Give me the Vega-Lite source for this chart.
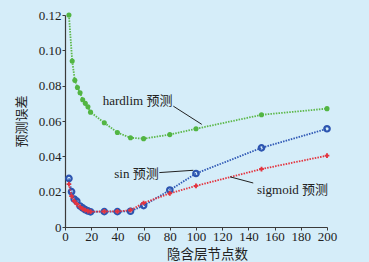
{
  "$schema": "https://vega.github.io/schema/vega-lite/v6.json",
  "autosize": {"type": "none"},
  "width": 262,
  "height": 212,
  "padding": {"left": 65, "top": 15, "right": 42, "bottom": 35},
  "background": "#d5edf9",
  "config": {
    "view": {"stroke": null},
    "font": "Liberation Serif, Noto Sans CJK SC",
    "axis": {
      "grid": false,
      "domainColor": "#3a3a3a",
      "tickColor": "#3a3a3a",
      "domainWidth": 1.2,
      "labelFont": "Liberation Serif",
      "labelFontSize": 13,
      "labelColor": "#222",
      "labelOverlap": false,
      "titleFont": "Noto Sans CJK SC",
      "titleFontSize": 13,
      "titleFontWeight": "normal",
      "titleColor": "#222"
    }
  },
  "datasets": {
    "series": [
      {"n": 3, "err": 0.120, "s": "hardlim"},
      {"n": 5.5, "err": 0.094, "s": "hardlim"},
      {"n": 7.5, "err": 0.083, "s": "hardlim"},
      {"n": 9.5, "err": 0.079, "s": "hardlim"},
      {"n": 11.5, "err": 0.076, "s": "hardlim"},
      {"n": 13.5, "err": 0.072, "s": "hardlim"},
      {"n": 15.5, "err": 0.070, "s": "hardlim"},
      {"n": 17.5, "err": 0.068, "s": "hardlim"},
      {"n": 19.5, "err": 0.065, "s": "hardlim"},
      {"n": 30, "err": 0.059, "s": "hardlim"},
      {"n": 40, "err": 0.0535, "s": "hardlim"},
      {"n": 50, "err": 0.0505, "s": "hardlim"},
      {"n": 60, "err": 0.050, "s": "hardlim"},
      {"n": 80, "err": 0.0523, "s": "hardlim"},
      {"n": 100, "err": 0.0556, "s": "hardlim"},
      {"n": 150, "err": 0.0635, "s": "hardlim"},
      {"n": 200, "err": 0.067, "s": "hardlim"},
      {"n": 3, "err": 0.0275, "s": "sin"},
      {"n": 5, "err": 0.020, "s": "sin"},
      {"n": 7, "err": 0.0158, "s": "sin"},
      {"n": 9, "err": 0.0146, "s": "sin"},
      {"n": 11.5, "err": 0.0119, "s": "sin"},
      {"n": 13.5, "err": 0.0108, "s": "sin"},
      {"n": 15.5, "err": 0.0098, "s": "sin"},
      {"n": 17.5, "err": 0.0091, "s": "sin"},
      {"n": 19.5, "err": 0.0086, "s": "sin"},
      {"n": 30, "err": 0.0087, "s": "sin"},
      {"n": 40, "err": 0.0087, "s": "sin"},
      {"n": 50, "err": 0.0089, "s": "sin"},
      {"n": 60, "err": 0.0121, "s": "sin"},
      {"n": 80, "err": 0.0209, "s": "sin"},
      {"n": 100, "err": 0.0303, "s": "sin"},
      {"n": 150, "err": 0.0448, "s": "sin"},
      {"n": 200, "err": 0.0556, "s": "sin"},
      {"n": 3, "err": 0.0243, "s": "sigmoid"},
      {"n": 5, "err": 0.0175, "s": "sigmoid"},
      {"n": 7, "err": 0.0148, "s": "sigmoid"},
      {"n": 9, "err": 0.013, "s": "sigmoid"},
      {"n": 11.5, "err": 0.0114, "s": "sigmoid"},
      {"n": 13.5, "err": 0.0103, "s": "sigmoid"},
      {"n": 15.5, "err": 0.0095, "s": "sigmoid"},
      {"n": 17.5, "err": 0.009, "s": "sigmoid"},
      {"n": 19.5, "err": 0.0087, "s": "sigmoid"},
      {"n": 30, "err": 0.0088, "s": "sigmoid"},
      {"n": 40, "err": 0.0088, "s": "sigmoid"},
      {"n": 50, "err": 0.0095, "s": "sigmoid"},
      {"n": 60, "err": 0.0136, "s": "sigmoid"},
      {"n": 80, "err": 0.019, "s": "sigmoid"},
      {"n": 100, "err": 0.0233, "s": "sigmoid"},
      {"n": 150, "err": 0.0328, "s": "sigmoid"},
      {"n": 200, "err": 0.0404, "s": "sigmoid"}
    ],
    "leaders": [
      {"x": 82.7, "y": 0.0684, "x2": 104.4, "y2": 0.0581},
      {"x": 72, "y": 0.0308, "x2": 97.9, "y2": 0.0321},
      {"x": 126, "y": 0.0284, "x2": 143.7, "y2": 0.0249}
    ],
    "labels": [
      {"x": 82, "y": 0.0712, "t": "hardlim 预测", "side": "right"},
      {"x": 71.5, "y": 0.0298, "t": "sin 预测", "side": "right"},
      {"x": 146.5, "y": 0.0208, "t": "sigmoid 预测", "side": "left"}
    ]
  },
  "encoding": {
    "x": {"type": "quantitative", "scale": {"domain": [0, 200], "nice": false},
      "axis": {"values": [0, 20, 40, 60, 80, 100, 120, 140, 160, 180, 200], "labelOverlap": false, "labelFlush": false, "title": "隐含层节点数", "titleFontSize": 13.5, "tickSize": 3, "labelPadding": 0, "titlePadding": 4, "titleX": 142}},
    "y": {"type": "quantitative", "scale": {"domain": [0, 0.12], "nice": false},
      "axis": {"values": [0, 0.02, 0.04, 0.06, 0.08, 0.1, 0.12], "labelOverlap": false, "labelFlush": false, "labelExpr": "datum.value == 0 ? '0' : format(datum.value, '.2f')", "title": "预测误差", "tickSize": 3, "labelPadding": 1, "titlePadding": 10}}
  },
  "layer": [
    {
      "data": {"name": "series"},
      "transform": [{"filter": "datum.s == 'hardlim'"}],
      "mark": {"type": "line", "color": "#5cb84a", "strokeWidth": 1.8, "strokeDash": [1.5, 1.2], "point": {"filled": true, "size": 26, "color": "#52b543"}},
      "encoding": {
        "x": {"field": "n", "type": "quantitative"},
        "y": {"field": "err", "type": "quantitative"}
      }
    },
    {
      "data": {"name": "series"},
      "transform": [{"filter": "datum.s == 'sin'"}],
      "mark": {"type": "line", "color": "#3059b5", "strokeWidth": 1.8, "strokeDash": [1.5, 1.2], "point": {"filled": false, "size": 30, "strokeWidth": 2.2, "color": "#2d55b0"}},
      "encoding": {
        "x": {"field": "n", "type": "quantitative"},
        "y": {"field": "err", "type": "quantitative"}
      }
    },
    {
      "data": {"name": "series"},
      "transform": [{"filter": "datum.s == 'sigmoid'"}],
      "mark": {"type": "line", "color": "#e3343f", "strokeWidth": 1.8, "strokeDash": [1.5, 1.2], "point": {"shape": "cross", "filled": true, "size": 22, "color": "#e3343f"}},
      "encoding": {
        "x": {"field": "n", "type": "quantitative"},
        "y": {"field": "err", "type": "quantitative"}
      }
    },
    {
      "data": {"name": "leaders"},
      "mark": {"type": "rule", "color": "#222", "strokeWidth": 1},
      "encoding": {
        "x": {"field": "x", "type": "quantitative"},
        "y": {"field": "y", "type": "quantitative"},
        "x2": {"field": "x2"},
        "y2": {"field": "y2"}
      }
    },
    {
      "data": {"name": "labels"},
      "transform": [{"filter": "datum.side == 'right'"}],
      "mark": {"type": "text", "align": "right", "baseline": "middle", "fontSize": 13, "color": "#222", "font": "Liberation Serif, Noto Sans CJK SC"},
      "encoding": {
        "x": {"field": "x", "type": "quantitative"},
        "y": {"field": "y", "type": "quantitative"},
        "text": {"field": "t"}
      }
    },
    {
      "data": {"name": "labels"},
      "transform": [{"filter": "datum.side == 'left'"}],
      "mark": {"type": "text", "align": "left", "baseline": "middle", "fontSize": 13, "color": "#222", "font": "Liberation Serif, Noto Sans CJK SC"},
      "encoding": {
        "x": {"field": "x", "type": "quantitative"},
        "y": {"field": "y", "type": "quantitative"},
        "text": {"field": "t"}
      }
    }
  ]
}
